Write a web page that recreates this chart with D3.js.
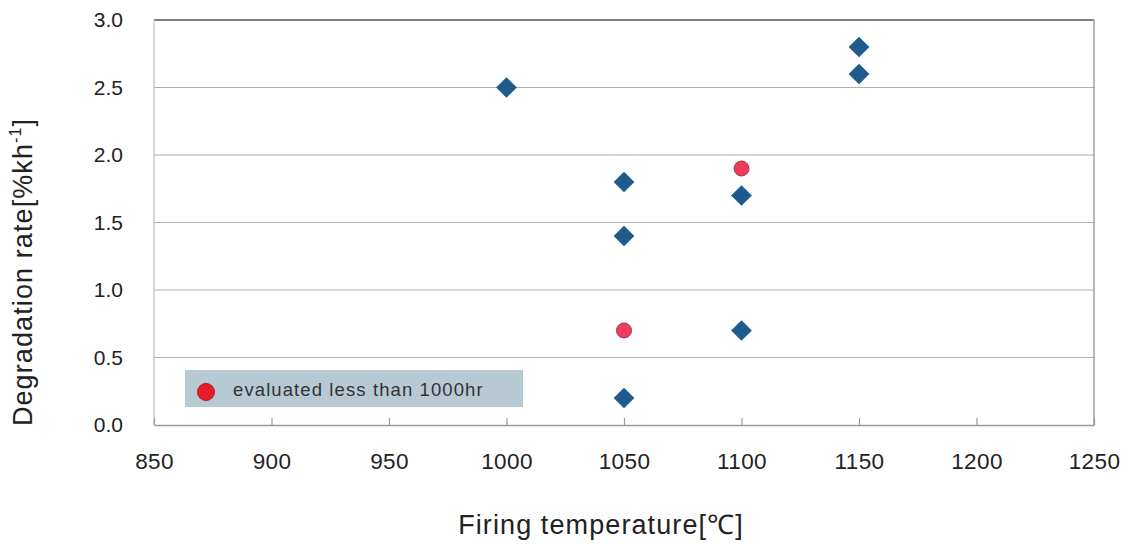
<!DOCTYPE html>
<html>
<head>
<meta charset="utf-8">
<script src="https://cdn.jsdelivr.net/npm/d3@7"></script>
<style>
  body { margin: 0; background: #fff; }
  svg { display: block; font-family: "Liberation Sans", Arial, sans-serif; }
</style>
</head>
<body>
<svg id="chart" width="1127" height="544"></svg>
<script>
// Degradation rate vs firing temperature
const longTemps  = [1000, 1050, 1050, 1050, 1100, 1100, 1150, 1150];
const longRates  = [2.5, 1.8, 1.4, 0.2, 1.7, 0.7, 2.8, 2.6];
const shortTemps = [1050, 1100];
const shortRates = [0.7, 1.9];
const xTicks = [850, 900, 950, 1000, 1050, 1100, 1150, 1200, 1250];
const yTicks = [0, 0.5, 1.0, 1.5, 2.0, 2.5, 3.0];
const legendLabel = "evaluated less than 1000hr";

const svg = d3.select("#chart");
const m = { left: 154, right: 1094, top: 20, bottom: 425 };

const x = d3.scaleLinear().domain([850, 1250]).range([m.left, m.right]);
const y = d3.scaleLinear().domain([0, 3]).range([m.bottom, m.top]);

// horizontal gridlines
svg.append("g").selectAll("line").data(yTicks.filter(v => v > 0 && v < 3)).join("line")
  .attr("x1", m.left).attr("x2", m.right)
  .attr("y1", d => y(d)).attr("y2", d => y(d))
  .attr("stroke", "#b0b0b0").attr("stroke-width", 1.2);

// frame
svg.append("line").attr("x1", m.left).attr("x2", m.right).attr("y1", y(3)).attr("y2", y(3))
  .attr("stroke", "#555").attr("stroke-width", 1.6);
svg.append("line").attr("x1", m.right).attr("x2", m.right).attr("y1", m.top).attr("y2", m.bottom)
  .attr("stroke", "#888").attr("stroke-width", 1.2);
svg.append("line").attr("x1", m.left).attr("x2", m.left).attr("y1", m.top).attr("y2", m.bottom)
  .attr("stroke", "#c8c8c8").attr("stroke-width", 1.5);

// x axis with inward ticks
const xAxis = d3.axisBottom(x).tickValues(xTicks).tickSizeInner(-7).tickSizeOuter(0)
  .tickPadding(28).tickFormat(d3.format("d"));
const gx = svg.append("g").attr("transform", `translate(0,${m.bottom})`).call(xAxis);
gx.select(".domain").attr("stroke", "#999").attr("stroke-width", 1.5);
gx.selectAll(".tick line").attr("stroke", "#999").attr("stroke-width", 1.2);
gx.selectAll(".tick text").attr("font-size", 22.5).attr("fill", "#222")
  .attr("letter-spacing", 0.4)
  .attr("font-family", "Liberation Sans, Arial, sans-serif");

// y axis labels
const yAxis = d3.axisLeft(y).tickValues(yTicks).tickSize(0).tickPadding(31).tickFormat(d3.format(".1f"));
const gy = svg.append("g").attr("transform", `translate(${m.left},0)`).call(yAxis);
gy.select(".domain").remove();
gy.selectAll(".tick text").attr("font-size", 21).attr("fill", "#222")
  .attr("font-family", "Liberation Sans, Arial, sans-serif");

// diamonds
const diamond = d3.symbol().type(d3.symbolSquare).size(215);
svg.append("g").selectAll("path").data(longTemps.map((t, i) => [t, longRates[i]])).join("path")
  .attr("d", diamond)
  .attr("transform", d => `translate(${x(d[0])},${y(d[1])}) rotate(45)`)
  .attr("fill", "#1e5a8b");

// circles
svg.append("g").selectAll("circle").data(shortTemps.map((t, i) => [t, shortRates[i]])).join("circle")
  .attr("cx", d => x(d[0])).attr("cy", d => y(d[1])).attr("r", 7.5)
  .attr("fill", "#ee3d5c").attr("stroke", "#a33245").attr("stroke-width", 1);

// legend
const lg = svg.append("g");
lg.append("rect").attr("x", 185).attr("y", 370).attr("width", 338).attr("height", 37)
  .attr("fill", "#b7cad4");
lg.append("circle").attr("cx", 206).attr("cy", 392).attr("r", 8.5)
  .attr("fill", "#e81f2b").attr("stroke", "#b01820").attr("stroke-width", 1);
lg.append("text").attr("x", 233).attr("y", 396).attr("font-size", 18.5)
  .attr("letter-spacing", 1.1)
  .attr("fill", "#333").text(legendLabel);

// axis titles
svg.append("text").attr("x", 601).attr("y", 534).attr("text-anchor", "middle")
  .attr("font-size", 27).attr("letter-spacing", 1.1)
  .attr("fill", "#222").text("Firing temperature[℃]");

const yt = svg.append("text").attr("transform", "translate(32,272) rotate(-90)")
  .attr("text-anchor", "middle").attr("font-size", 27).attr("letter-spacing", 1.1)
  .attr("fill", "#222");
yt.append("tspan").text("Degradation rate[%kh");
yt.append("tspan").attr("font-size", 16).attr("dy", -11).text("-1");
yt.append("tspan").attr("dy", 11).text("]");
</script>
</body>
</html>
